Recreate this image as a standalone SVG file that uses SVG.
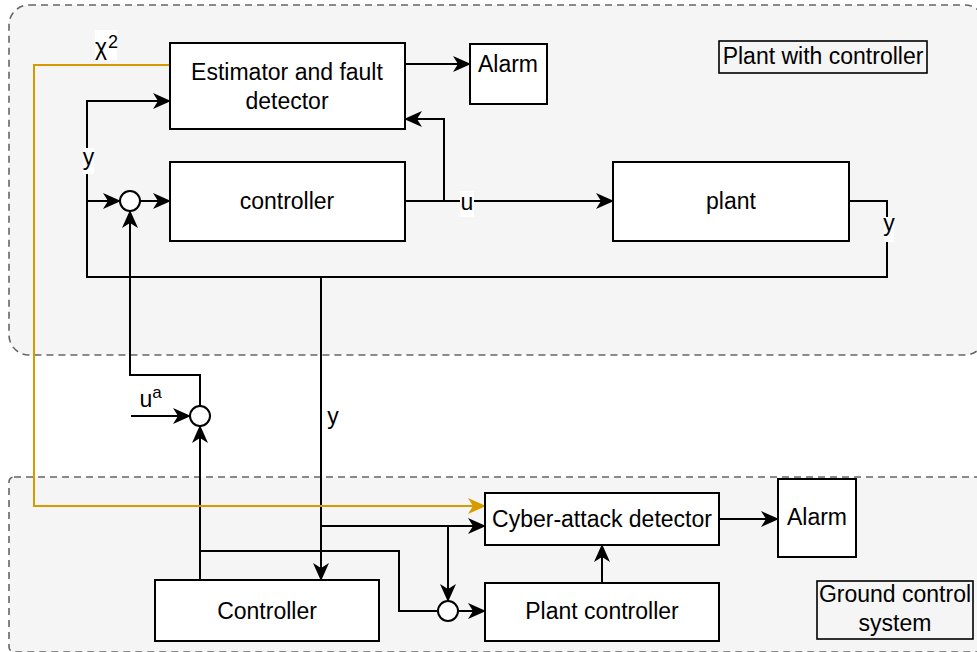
<svg xmlns="http://www.w3.org/2000/svg" width="977" height="652" viewBox="0 0 977 652">
  <style>
    .zone { fill: #f5f5f5; stroke: #666666; stroke-width: 1.6; stroke-dasharray: 7 5; }
    .box { fill: #ffffff; stroke: #000000; stroke-width: 2; }
    .tag { fill: none; stroke: #000000; stroke-width: 1.6; }
    .sum { fill: #ffffff; stroke: #000000; stroke-width: 2; }
    .wire { fill: none; stroke: #000000; stroke-width: 2; }
    .arrow { marker-end: url(#head); }
    .chi { fill: none; stroke: #d79b00; stroke-width: 2; marker-end: url(#headOrange); }
    text { font-family: "Liberation Sans", Arial, sans-serif; font-size: 23px; fill: #000000; text-anchor: middle; }
    .bg { fill: #ffffff; stroke: none; }
  </style>
  <defs>
    <marker id="head" markerUnits="userSpaceOnUse" viewBox="0 0 18 16" markerWidth="18" markerHeight="16" refX="17" refY="8" orient="auto">
      <path d="M0,0 L18,8 L0,16 L5,8 Z" fill="#000000"/>
    </marker>
    <marker id="headOrange" markerUnits="userSpaceOnUse" viewBox="0 0 18 16" markerWidth="18" markerHeight="16" refX="17" refY="8" orient="auto">
      <path d="M0,0 L18,8 L0,16 L5,8 Z" fill="#d79b00"/>
    </marker>
  </defs>

  <!-- containers -->
  <g id="plant-zone">
    <rect class="zone" x="9" y="5" width="976" height="350" rx="20" ry="20"/>
  </g>
  <g id="ground-zone">
    <rect class="zone" x="9" y="477" width="980" height="175" rx="5" ry="5"/>
  </g>

  <!-- connectors -->
  <g id="connectors">
    <path class="wire arrow" d="M405,64 H470"/>
    <path class="wire arrow" d="M444,201 V119 H405"/>
    <path class="wire arrow" d="M405,201 H613"/>
    <path class="wire arrow" d="M849,201 H887 V277 H87 V101 H170"/>
    <path class="wire arrow" d="M87,201 H120"/>
    <path class="wire arrow" d="M140,201 H170"/>
    <path class="wire arrow" d="M200,406 V375 H130 V211"/>
    <path class="wire arrow" d="M131,416 H190"/>
    <path class="wire arrow" d="M200,580 V426"/>
    <path class="wire arrow" d="M321,277 V580"/>
    <path class="wire arrow" d="M321,526 H485"/>
    <path class="wire arrow" d="M448,526 V601"/>
    <path class="wire" d="M200,551 H399 V611 H438"/>
    <path class="wire arrow" d="M458,611 H485"/>
    <path class="wire arrow" d="M602,583 V545"/>
    <path class="wire arrow" d="M719,519 H778"/>
    <path class="chi" d="M170,65 H34 V506 H485"/>

    <!-- connector labels -->
    <rect class="bg" x="460" y="191" width="14" height="26"/>
    <text x="467" y="210">u</text>
    <rect class="bg" x="83" y="148" width="11" height="26"/>
    <text x="88.5" y="165">y</text>
    <rect class="bg" x="884" y="217" width="10" height="25"/>
    <text x="889" y="231">y</text>
    <text x="333" y="424">y</text>
    <rect class="bg" x="95" y="30" width="22" height="30"/>
    <text x="101" y="55">χ</text>
    <text x="113" y="48" style="font-size:18px">2</text>
    <text x="146" y="407">u</text>
    <text x="157" y="398" style="font-size:17px">a</text>
  </g>

  <!-- plant side -->
  <g id="estimator">
    <rect class="box" x="170" y="43" width="235" height="86"/>
    <text x="287" y="80">Estimator and fault</text>
    <text x="287" y="109">detector</text>
  </g>
  <g id="alarm-top">
    <rect class="box" x="470" y="44" width="77" height="60"/>
    <text x="508" y="72">Alarm</text>
  </g>
  <g id="controller">
    <rect class="box" x="170" y="162" width="235" height="79"/>
    <text x="287" y="209">controller</text>
  </g>
  <g id="plant">
    <rect class="box" x="613" y="162" width="236" height="79"/>
    <text x="731" y="209">plant</text>
  </g>
  <g id="sum-feedback">
    <circle class="sum" cx="130" cy="201" r="10"/>
  </g>
  <g id="sum-attack">
    <circle class="sum" cx="200" cy="416" r="10"/>
  </g>
  <g id="plant-title">
    <rect class="tag" x="719" y="41" width="208" height="32"/>
    <text x="823" y="64">Plant with controller</text>
  </g>

  <!-- ground side -->
  <g id="cyber-detector">
    <rect class="box" x="485" y="493" width="234" height="52"/>
    <text x="602" y="527">Cyber-attack detector</text>
  </g>
  <g id="alarm-bottom">
    <rect class="box" x="778" y="479" width="78" height="78"/>
    <text x="817" y="525">Alarm</text>
  </g>
  <g id="ground-controller">
    <rect class="box" x="155" y="580" width="224" height="61"/>
    <text x="267" y="619">Controller</text>
  </g>
  <g id="sum-ground">
    <circle class="sum" cx="448" cy="611" r="10"/>
  </g>
  <g id="plant-controller">
    <rect class="box" x="485" y="583" width="234" height="58"/>
    <text x="602" y="619">Plant controller</text>
  </g>
  <g id="ground-title">
    <rect class="tag" x="817" y="581" width="156" height="58"/>
    <text x="895" y="602">Ground control</text>
    <text x="895" y="631">system</text>
  </g>
</svg>
